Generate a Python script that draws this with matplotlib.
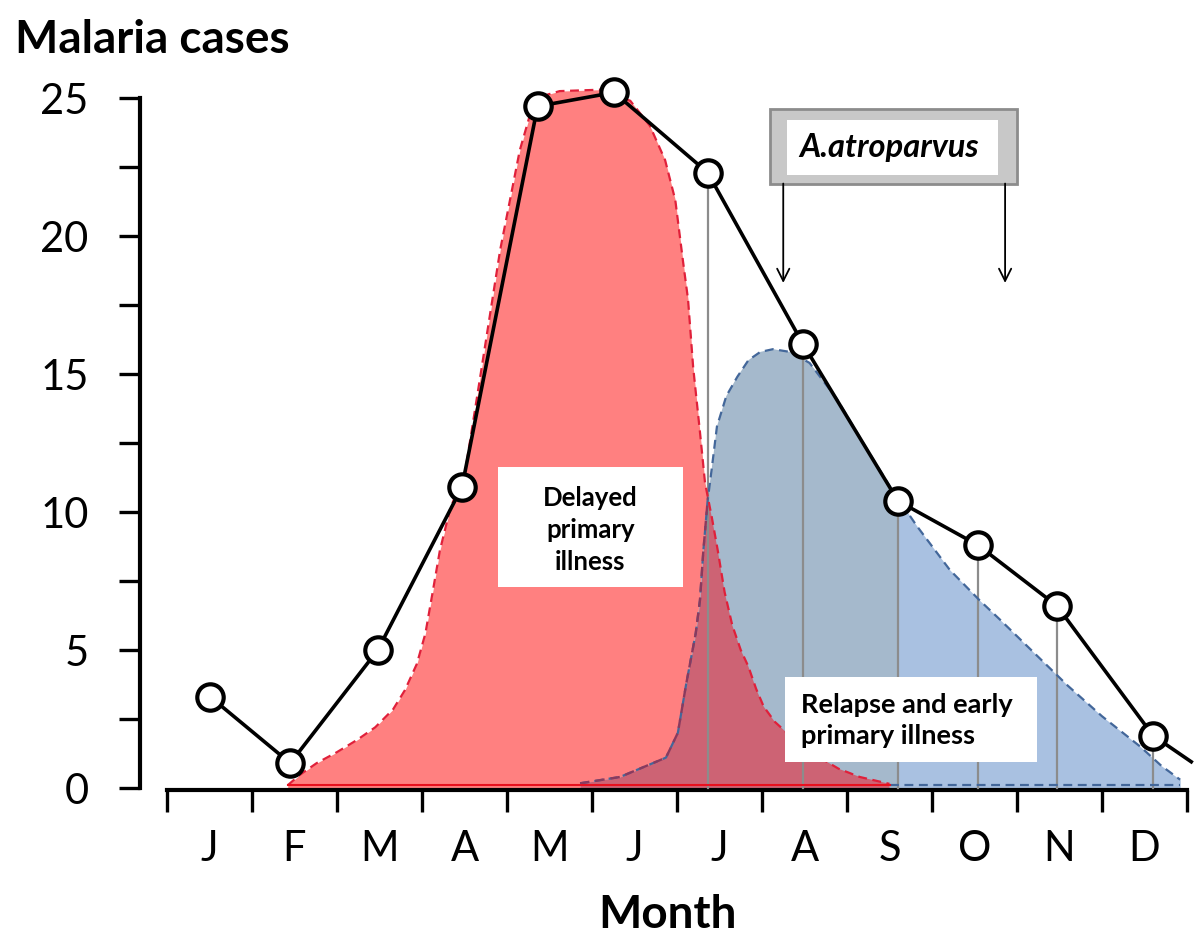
"""
Monthly malaria cases with delayed primary illness and relapse components.
"""

import matplotlib

matplotlib.use("Agg")
import matplotlib.pyplot as plt
from matplotlib.patches import Rectangle
import numpy as np

plt.rcParams["font.family"] = ["Lato", "DejaVu Sans"]

# month labels, placed at the middle of each month interval
months = ["J", "F", "M", "A", "M", "J", "J", "A", "S", "O", "N", "D"]

# observed cases (x in months from 1 January)
case_x = [0.51, 1.45, 2.48, 3.47, 4.36, 5.26, 6.36, 7.48, 8.60, 9.54, 10.47, 11.60]
case_y = [3.3, 0.9, 5.0, 10.9, 24.7, 25.2, 22.3, 16.1, 10.4, 8.8, 6.6, 1.9]
tail_x, tail_y = 12.05, 0.95

# months that get a grey drop line
drop_from = 6

# delayed primary illness curve
red_x = [1.42, 1.56, 1.76, 2.00, 2.24, 2.45, 2.66, 2.80, 2.94, 3.04, 3.12, 3.21,
         3.33, 3.51, 3.68, 3.92, 4.15, 4.29, 4.45, 4.62, 5.09, 5.45, 5.68, 5.86,
         5.98, 6.07, 6.13, 6.19, 6.27, 6.33, 6.41, 6.48, 6.56, 6.65, 6.75, 6.84,
         6.93, 7.02, 7.15, 7.31, 7.50, 7.68, 7.90, 8.15, 8.50]
red_y = [0.1, 0.47, 0.9, 1.3, 1.75, 2.2, 2.85, 3.55, 4.5, 5.6, 7.0, 8.6,
         10.1, 11.5, 14.8, 19.5, 23.1, 24.6, 25.1, 25.25, 25.3, 24.9, 24.0, 22.75,
         21.3, 19.1, 17.7, 15.25, 12.9, 11.05, 9.8, 8.6, 7.1, 5.9, 5.0, 4.4,
         3.6, 2.95, 2.4, 1.95, 1.5, 1.1, 0.7, 0.4, 0.15]

# relapse and early primary illness curve
blue_x = [4.86, 5.33, 5.87, 6.01, 6.11, 6.22, 6.27, 6.31, 6.36, 6.41, 6.47, 6.58,
          6.71, 6.84, 6.98, 7.13, 7.33, 7.56, 7.88, 8.19, 8.51, 8.82, 9.21, 9.56,
          9.80, 10.20, 10.60, 11.00, 11.45, 11.70, 11.92]
blue_y = [0.17, 0.4, 1.1, 2.0, 3.8, 5.6, 6.8, 8.6, 10.4, 11.6, 13.1, 14.2,
          14.9, 15.5, 15.8, 15.9, 15.8, 15.4, 14.1, 12.5, 10.9, 9.5, 7.9, 6.8,
          6.1, 4.9, 3.7, 2.6, 1.5, 0.8, 0.3]
grey_band = (6.0, 8.6)

# pixel geometry of the original figure
PX_X0, PX_PER_MONTH = 167, 85
PX_Y0, PX_PER_CASE = 788, 27.6
W, H = 1200, 946

fig = plt.figure(figsize=(W / 100, H / 100), dpi=100)
ax = fig.add_axes([0, 0, 1, 1])
ax.set_xlim(-PX_X0 / PX_PER_MONTH, (W - PX_X0) / PX_PER_MONTH)
ax.set_ylim((PX_Y0 - H) / PX_PER_CASE, PX_Y0 / PX_PER_CASE)
ax.patch.set_alpha(0)

# fills
red_fill = ax.fill_between(red_x, red_y, 0, color="#ff8080", lw=0, zorder=1)
blue_fill = ax.fill_between(blue_x, blue_y, 0, color="#a9c1e1", lw=0, zorder=2)
red_path = red_fill.get_paths()[0]
blue_path = blue_fill.get_paths()[0]

band = ax.axvspan(*grey_band, color="#a5b9cc", lw=0, zorder=2.1)
band.set_clip_path(blue_path, ax.transData)

overlap = ax.fill_between(blue_x, blue_y, 0, color="#cd6374", lw=0, zorder=2.2)
overlap.set_clip_path(red_path, ax.transData)

# grey drop lines
for x, y in zip(case_x[drop_from:], case_y[drop_from:]):
    ax.plot([x, x], [0, y], color="#8c8c8c", lw=1.6, zorder=3)

# outlines
ax.plot(blue_x, blue_y, color="#43679a", lw=1.6, ls=(0, (4, 2.5)), zorder=4)
purple, = ax.plot(blue_x, blue_y, color="#8a3a5e", lw=1.7, ls=(0, (4, 2.5)), zorder=4.1)
purple.set_clip_path(red_path, ax.transData)
ax.plot([red_x[-1], blue_x[-1]], [0.12, 0.12], color="#43679a", lw=1.6,
        ls=(0, (4, 2.5)), zorder=4)
ax.plot(red_x, red_y, color="#e0203a", lw=1.6, ls=(0, (4, 2.5)), zorder=4.2)
ax.plot([red_x[0], red_x[-1]], [0.1, 0.1], color="#e8101e", lw=1.5, zorder=4.2)

# observed cases
ax.plot(case_x + [tail_x], case_y + [tail_y], color="black", lw=2.6, zorder=5)
ax.plot(case_x, case_y, "o", ms=19, mfc="white", mec="black", mew=3, zorder=6)

# axes
for side in ("top", "right"):
    ax.spines[side].set_visible(False)
ax.spines["left"].set_position(("data", (140 - PX_X0) / PX_PER_MONTH))
ax.spines["left"].set_bounds(0, 25)
ax.spines["bottom"].set_position(("data", -0.07))
ax.spines["bottom"].set_bounds(0, 12)
ax.spines["left"].set_linewidth(3)
ax.spines["bottom"].set_linewidth(3)

ax.set_yticks(np.arange(0, 26, 5))
ax.set_yticks(np.arange(2.5, 25, 5), minor=True)
ax.tick_params(axis="y", which="both", direction="out", length=15, width=2.4,
               labelsize=30, pad=22)
ax.set_xticks(np.arange(0, 13))
ax.set_xticklabels([])
ax.set_xticks(np.arange(0.5, 12), minor=True)
ax.set_xticklabels(months, minor=True)
ax.tick_params(axis="x", which="major", direction="out", length=16, width=2.4)
ax.tick_params(axis="x", which="minor", length=0, labelsize=30, pad=29)

fig.text(15 / W, 1 - 53 / H, "Malaria cases", fontsize=33, fontweight="bold",
         ha="left", va="baseline")
fig.text(668 / W, 1 - 928 / H, "Month", fontsize=33, fontweight="bold",
         ha="center", va="baseline")

# Anopheles atroparvus season box
ax.add_patch(Rectangle((7.09, 21.9), 2.91, 2.7, facecolor="#c8c8c8",
                       edgecolor="#8c8c8c", lw=2, zorder=7))
ax.add_patch(Rectangle((7.29, 22.2), 2.49, 2.0, facecolor="white", lw=0, zorder=7.1))
ax.text(8.5, 23.2, "A.atroparvus", fontsize=23.5, fontweight="bold",
        fontstyle="italic", ha="center", va="center", zorder=8)
for x in (7.25, 9.86):
    ax.annotate("", xy=(x, 18.3), xytext=(x, 21.9),
                arrowprops=dict(arrowstyle="->", lw=1.3, color="black",
                                mutation_scale=22, shrinkA=0, shrinkB=0),
                zorder=7)

# labels of the two components
ax.add_patch(Rectangle((3.89, 7.28), 2.18, 4.35, facecolor="white", lw=0, zorder=7))
ax.text(4.98, 9.35, "Delayed\nprimary\nillness", fontsize=18.5, fontweight="bold",
        ha="center", va="center", multialignment="center", linespacing=1.42,
        zorder=8)
ax.add_patch(Rectangle((7.27, 0.94), 2.97, 3.08, facecolor="white", lw=0, zorder=7))
ax.text(7.46, 2.45, "Relapse and early\nprimary illness", fontsize=19.5,
        fontweight="bold", ha="left", va="center", linespacing=1.35, zorder=8)

fig.savefig("out.png", dpi=100)
